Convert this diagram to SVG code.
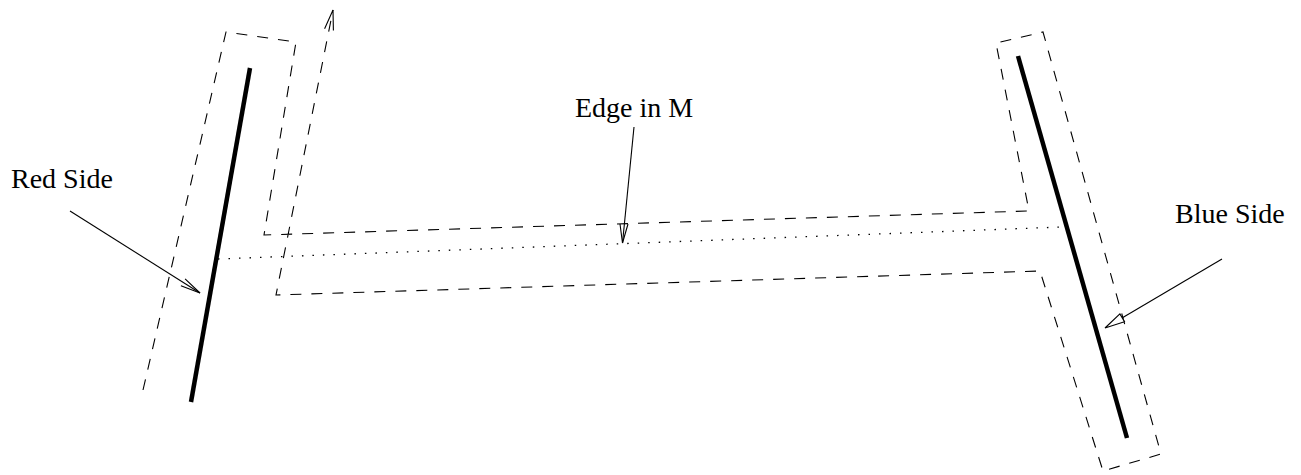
<svg xmlns="http://www.w3.org/2000/svg" width="1301" height="475" viewBox="0 0 1301 475">
  <style>
    .lbl { font-family: "Liberation Serif", "Times New Roman", serif; font-size: 28px; fill: #000; }
    .thick { stroke: #000; stroke-width: 4.5; fill: none; }
    .dash { stroke: #000; stroke-width: 1.1; fill: none; stroke-dasharray: 11 10; }
    .dot { stroke: #000; stroke-width: 1.3; fill: none; stroke-dasharray: 1.5 9; }
    .arr { stroke: #000; stroke-width: 1.1; fill: none; }
    .head { stroke: #000; stroke-width: 1.1; fill: none; stroke-linejoin: miter; }
    .headc { stroke: #000; stroke-width: 1.1; fill: #fff; }
  </style>
  <rect width="1301" height="475" fill="#fff"/>
  <g id="red-side">
    <line class="thick" x1="250" y1="68" x2="191" y2="402"/>
    <text class="lbl" x="11" y="188">Red Side</text>
  </g>
  <g id="blue-side">
    <line class="thick" x1="1018" y1="56" x2="1127" y2="438"/>
    <text class="lbl" x="1175" y="223">Blue Side</text>
  </g>
  <g id="edge-in-m">
    <line class="dot" x1="218" y1="259" x2="1062" y2="227"/>
    <text class="lbl" x="575" y="117">Edge in M</text>
  </g>
  <g id="connectors">
    <path class="dash" d="M143,390 L226,32 L296,42 L264,235 L1029,211 L996,43 L1043,32 L1161,454 L1103,471 L1040,271 L276,295 L333,10"/>
    <polyline class="head" points="324.6,28.7 333,10 333.4,30.5"/>
    <line class="arr" x1="70" y1="211" x2="200" y2="293"/>
    <polyline class="head" points="180.9,285.7 200,293 185.1,278.9"/>
    <line class="arr" x1="634" y1="127" x2="622.5" y2="243"/>
    <polyline class="head" points="620,224 622.5,243 628,224"/>
    <line class="arr" x1="1222" y1="259" x2="1122" y2="318"/>
    <polygon class="headc" points="1105,328 1124.5,321.7 1119.9,313.9"/>
  </g>
</svg>
